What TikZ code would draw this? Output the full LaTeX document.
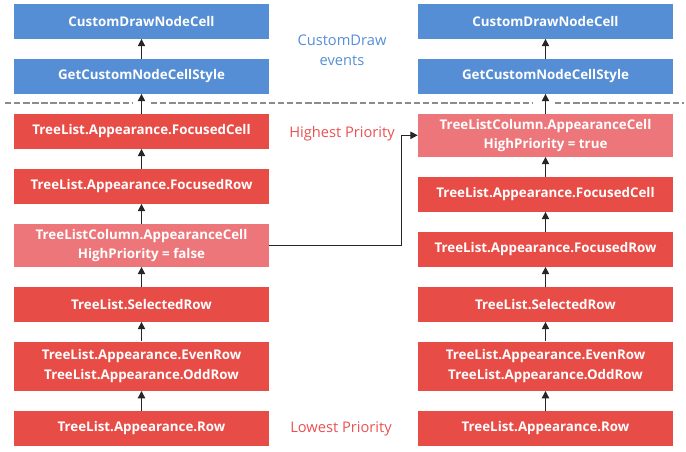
\documentclass[tikz,border=0pt]{standalone}
\usepackage{fontspec}
\setmainfont{Open Sans}
\usetikzlibrary{arrows.meta}
\definecolor{boxblue}{RGB}{85,142,213}
\definecolor{boxred}{RGB}{232,76,71}
\definecolor{boxpink}{RGB}{237,118,122}
\definecolor{lblblue}{RGB}{85,142,213}
\definecolor{lblred}{RGB}{235,80,80}
\definecolor{sepgray}{RGB}{140,140,140}
\begin{document}
\begin{tikzpicture}[x=0.75pt,y=-0.75pt,
  box/.style={rectangle, minimum width=191.25pt, minimum height=26pt, inner sep=0pt,
    text=white, font=\bfseries\fontsize{10}{14.5}\selectfont, align=center},
  bluebox/.style={box, fill=boxblue},
  redbox/.style={box, fill=boxred},
  pinkbox/.style={box, fill=boxpink, minimum height=32pt},
  tallbox/.style={box, fill=boxred, minimum height=36.75pt},
  arr/.style={-{Triangle[length=5.5pt,width=5.5pt]}, line width=1pt, draw=black!85},
  lbl/.style={font=\fontsize{11}{15}\selectfont, align=center, inner sep=0pt},
  sep/.style={draw=sepgray, line width=1.5pt, dash pattern=on 4.8pt off 2pt}]
\useasboundingbox (0,0) rectangle (686,452);

% separator
\draw[sep] (5,103) -- (132,103);
\draw[sep] (151,103) -- (533,103);
\draw[sep] (555,103) -- (684,103);

% left column
\node[bluebox] (l1) at (141.5,21.3) {CustomDrawNodeCell};
\node[bluebox] (l2) at (141.5,76.3) {GetCustomNodeCellStyle};
\node[redbox] (l3) at (141.5,131.3) {TreeList.Appearance.FocusedCell};
\node[redbox] (l4) at (141.5,186.3) {TreeList.Appearance.FocusedRow};
\node[pinkbox] (l5) at (141.5,245.3) {TreeListColumn.AppearanceCell\\HighPriority = false};
\node[redbox] (l6) at (141.5,304.3) {TreeList.SelectedRow};
\node[tallbox] (l7) at (141.5,366.2) {TreeList.Appearance.EvenRow\\TreeList.Appearance.OddRow};
\node[redbox] (l8) at (141.5,428.3) {TreeList.Appearance.Row};

% right column
\node[bluebox] (r1) at (545.5,21.3) {CustomDrawNodeCell};
\node[bluebox] (r2) at (545.5,76.3) {GetCustomNodeCellStyle};
\node[pinkbox] (r3) at (545.5,135.3) {TreeListColumn.AppearanceCell\\HighPriority = true};
\node[redbox] (r4) at (545.5,194.3) {TreeList.Appearance.FocusedCell};
\node[redbox] (r5) at (545.5,249.3) {TreeList.Appearance.FocusedRow};
\node[redbox] (r6) at (545.5,304.3) {TreeList.SelectedRow};
\node[tallbox] (r7) at (545.5,366.2) {TreeList.Appearance.EvenRow\\TreeList.Appearance.OddRow};
\node[redbox] (r8) at (545.5,428.3) {TreeList.Appearance.Row};

% labels
\node[lbl, text=lblblue] (cde) at (342,50) {CustomDraw\\events};
\node[lbl, text=lblred] (hp) at (342,134) {Highest Priority};
\node[lbl, text=lblred] (lp) at (341,429) {Lowest Priority};

% arrows
\foreach \a/\b in {l2/l1,l3/l2,l4/l3,l5/l4,l6/l5,l7/l6,l8/l7,
                   r2/r1,r3/r2,r4/r3,r5/r4,r6/r5,r7/r6,r8/r7}
  \draw[arr] (\a.north) -- (\b.south);
\draw[arr, line width=0.8pt] (l5.east) -- ++(132.5,0) |- (r3.west);
\end{tikzpicture}
\end{document}
